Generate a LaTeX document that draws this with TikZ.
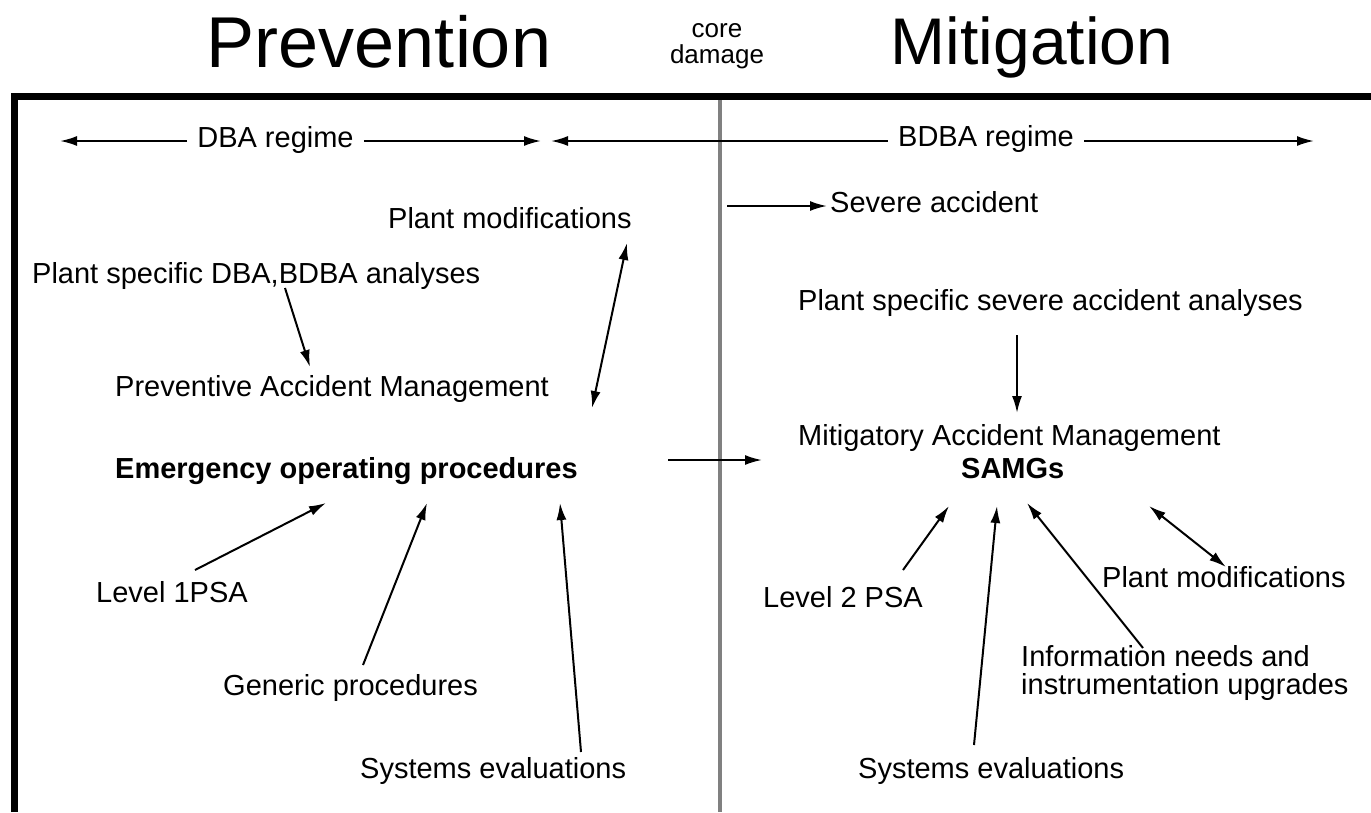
\documentclass[tikz,border=0pt]{standalone}
\usepackage{fontspec}
\setmainfont{Liberation Sans}
\usetikzlibrary{arrows.meta,calc}
\begin{document}
\begin{tikzpicture}[x=1pt,y=-1pt,
  lbl/.style={inner sep=0pt, anchor=base west, font=\fontsize{29}{34}\selectfont},
  boldlbl/.style={lbl, font=\fontsize{29}{34}\selectfont\bfseries},
  regime/.style={inner ysep=0pt, inner xsep=10pt, anchor=base, font=\fontsize{29}{34}\selectfont},
  title/.style={inner sep=0pt, anchor=base},
  conn/.style={line width=2pt, -{Latex[length=17pt,width=10pt]}},
  twoway/.style={line width=2pt, {Latex[length=17pt,width=10pt]}-{Latex[length=17pt,width=10pt]}},
]
\useasboundingbox (0,0) rectangle (1371,812);

% frame and the core-damage divider
\draw[line width=7pt, line join=miter] (14.5,812) -- (14.5,96.5) -- (1371,96.5);
\draw[line width=4pt, black!50] (719.5,100) -- (719.5,812);

% headings
\node[title, font=\fontsize{72}{80}\selectfont] (prev) at (379,67) {Prevention};
\node[title, font=\fontsize{66}{76}\selectfont] (miti) at (1032,64) {Mitigation};
\node[title, font=\fontsize{26}{28}\selectfont] (core) at (717,37) {core};
\node[title, font=\fontsize{26}{28}\selectfont] (damage) at (717,63) {damage};

% regimes
\coordinate (dbaL) at (60,141);
\coordinate (dbaR) at (541,141);
\coordinate (bdbaL) at (551,141);
\coordinate (bdbaR) at (1314,141);
\node[regime] (dba) at (275.5,147) {DBA regime};
\node[regime] (bdba) at (986,146) {BDBA regime};
\draw[conn] (dba.west |- dbaL) -- (dbaL);
\draw[conn] (dba.east |- dbaR) -- (dbaR);
\draw[conn] (bdba.west |- bdbaL) -- (bdbaL);
\draw[conn] (bdba.east |- bdbaR) -- (bdbaR);

% prevention side
\node[lbl] (pml) at (388,228) {Plant modifications};
\node[lbl] (psd) at (32,283) {Plant specific DBA,BDBA analyses};
\node[lbl] (pam) at (115,396) {Preventive Accident Management};
\node[boldlbl] (eop) at (115,478) {Emergency operating procedures};
\node[lbl] (l1) at (96,602) {Level 1PSA};
\node[lbl] (gen) at (223,695) {Generic procedures};
\node[lbl] (sysl) at (360,778) {Systems evaluations};

\draw[conn] ($(psd.base west)+(253,5)$) -- ($(pam.base west)+(195,-29)$);
\draw[twoway] ($(pml.base west)+(239,15)$) -- ($(eop.base west)+(477,-70)$);
\draw[conn] ($(l1.base west)+(99,-32)$) -- ($(eop.base west)+(211,25)$);
\draw[conn] ($(gen.base west)+(140,-30)$) -- ($(eop.base west)+(312,25)$);
\draw[conn] ($(sysl.base west)+(221,-26)$) -- ($(eop.base west)+(445,25)$);

% mitigation side
\coordinate (sevS) at (727,206);
\node[lbl] (sev) at (830,212) {Severe accident};
\node[lbl] (pss) at (798,310) {Plant specific severe accident analyses};
\node[lbl] (mam) at (798,445) {Mitigatory Accident Management};
\node[boldlbl] (samg) at (961,478) {SAMGs};
\node[lbl] (l2) at (763,607) {Level 2 PSA};
\node[lbl] (pmr) at (1102,587) {Plant modifications};
\node[lbl, anchor=north west, align=left, font=\fontsize{29}{28}\selectfont]
  (info) at (1021,645) {Information needs and\\instrumentation upgrades};
\node[lbl] (sysr) at (858,778) {Systems evaluations};

\draw[conn] (sevS) -- ($(sev.base west)+(-3,-6)$);
\draw[conn] ($(eop.base west)+(553,-18)$) -- ($(mam.base west)+(-36,15)$);
\draw[conn] ($(pss.base west)+(219,25)$) -- ($(mam.base west)+(219,-32)$);
\draw[conn] ($(l2.base west)+(140,-37)$) -- ($(samg.base west)+(-12,28)$);
\draw[conn] ($(sysr.base west)+(116,-33)$) -- ($(samg.base west)+(36,28)$);
\draw[conn] ($(info.north west)+(122,3)$) -- ($(samg.base west)+(66,25)$);
\draw[twoway] ($(samg.base west)+(188,28)$) -- ($(pmr.base west)+(124,-20)$);
\end{tikzpicture}
\end{document}
